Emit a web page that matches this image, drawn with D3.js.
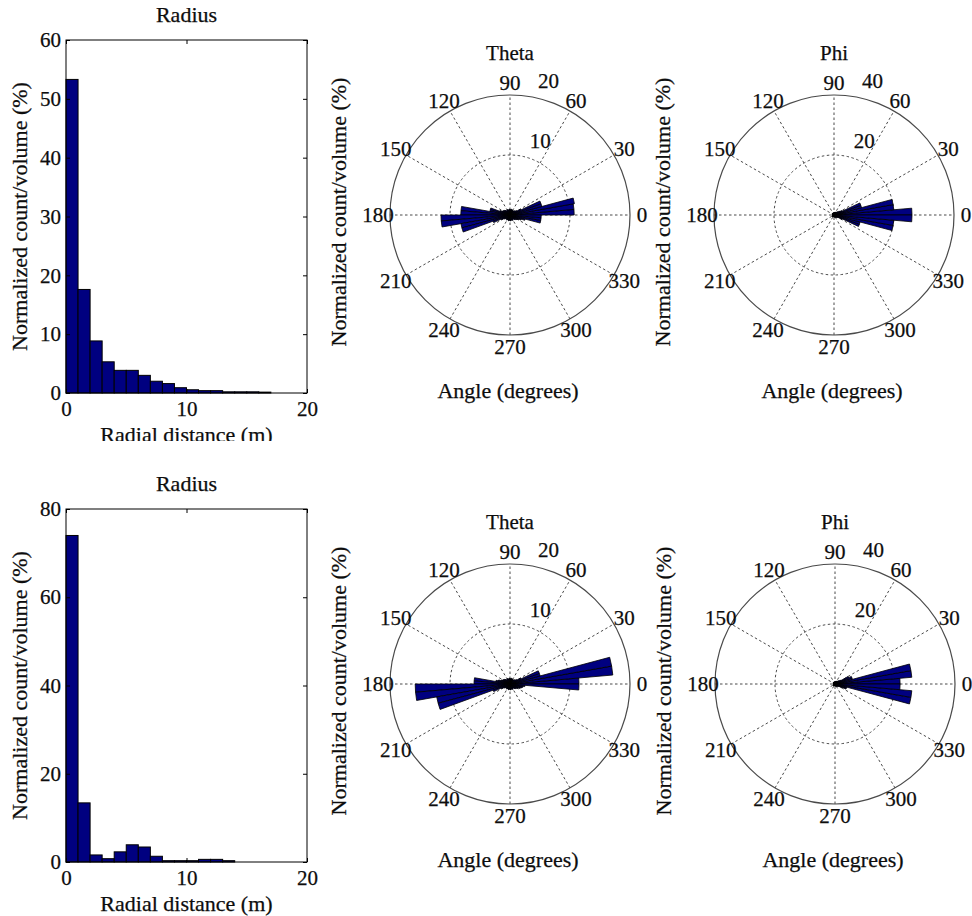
<!DOCTYPE html>
<meta charset="utf-8">
<script src="https://d3js.org/d3.v7.min.js"></script>
<style>
body { margin: 0; background: #fff; }
svg text { font-family: "Liberation Serif", "Times New Roman", serif; fill: #0d0d0d; stroke: #0d0d0d; stroke-width: 0.25px; }
</style>
<svg id="fig" width="972" height="916"></svg>
<script>
// ---- data ----
// radial distance histogram: 1 m bins starting at these edges
const radiusEdges = [0, 1, 2, 3, 4, 5, 6, 7, 8, 9, 10, 11, 12, 13, 14, 15, 16, 17, 18, 19];
const radiusTop = [53.3, 17.6, 8.85, 5.3, 3.85, 3.85, 3.0, 2.0, 1.6, 0.9, 0.55, 0.4, 0.4, 0.2, 0.2, 0.2, 0.15, 0, 0, 0];
const radiusBottom = [74.0, 13.4, 1.6, 0.75, 2.3, 3.9, 3.4, 1.3, 0.3, 0.3, 0.3, 0.6, 0.6, 0.3, 0, 0, 0, 0, 0, 0];
const radiusTicksTop = [0, 10, 20, 30, 40, 50, 60];
const radiusTicksBottom = [0, 20, 40, 60, 80];
const radialTicks = [0, 10, 20];

// angular histograms: 5 degree bins starting at these angles
const angleBins = [0, 5, 10, 15, 20, 25, 30, 35, 40, 45, 50, 55, 60, 65, 70, 75, 80, 85,
  90, 95, 100, 105, 110, 115, 120, 125, 130, 135, 140, 145, 150, 155, 160, 165, 170, 175,
  180, 185, 190, 195, 200, 205, 210, 215, 220, 225, 230, 235, 240, 245, 250, 255, 260, 265,
  270, 275, 280, 285, 290, 295, 300, 305, 310, 315, 320, 325, 330, 335, 340, 345, 350, 355];
const thetaTop = [10.7, 10.7, 10.9, 5.5, 5.5, 2.0, 1.3, 1.1, 1.0, 0.9, 0.8, 0.9, 0.8, 0.9, 1.0, 0.9, 0.8, 0.9,
  1.0, 0.9, 0.8, 0.9, 1.0, 0.9, 0.8, 0.9, 1.0, 1.1, 1.2, 1.3, 1.4, 1.8, 3.4, 3.4, 8.2, 8.2,
  11.5, 11.5, 8.3, 8.3, 3.0, 1.6, 1.2, 1.0, 0.9, 0.8, 0.9, 1.0, 0.9, 0.8, 0.9, 1.0, 0.9, 0.8,
  0.9, 1.0, 0.9, 0.8, 0.9, 1.0, 0.9, 0.8, 1.0, 1.1, 1.2, 1.4, 1.6, 2.0, 2.6, 5.2, 5.2, 5.2];
const phiTop = [26, 20, 20, 9.5, 9.5, 3.0, 2.2, 1.8, 1.5, 1.3, 1.2, 1.1, 1.0, 1.0, 0.9, 0.9, 0.8, 0.8,
  0.8, 0.7, 0.7, 0.7, 0.7, 0.6, 0.6, 0.6, 0.6, 0.6, 0.6, 0.6, 0.6, 0.6, 0.6, 0.6, 0.6, 0.6,
  0.6, 0.6, 0.6, 0.6, 0.6, 0.6, 0.6, 0.6, 0.6, 0.6, 0.6, 0.6, 0.6, 0.6, 0.6, 0.6, 0.6, 0.7,
  0.7, 0.7, 0.7, 0.8, 0.8, 0.8, 0.9, 0.9, 1.0, 1.1, 1.2, 1.4, 3.0, 9.0, 9.0, 20, 20, 26];
const thetaBottom = [11.5, 17.2, 17.2, 5.2, 5.2, 2.0, 1.3, 1.1, 1.0, 0.9, 0.8, 0.9, 0.8, 0.9, 1.0, 0.9, 0.8, 0.9,
  1.0, 0.9, 0.8, 0.9, 1.0, 0.9, 0.8, 0.9, 1.0, 1.1, 1.2, 1.3, 1.4, 1.6, 2.0, 2.4, 6.0, 6.0,
  15.8, 15.8, 12.4, 12.4, 3.0, 1.6, 1.2, 1.0, 0.9, 0.8, 0.9, 1.0, 0.9, 0.8, 0.9, 1.0, 0.9, 0.8,
  0.9, 1.0, 0.9, 0.8, 0.9, 1.0, 0.9, 0.8, 1.0, 1.1, 1.2, 1.3, 1.5, 1.8, 2.0, 2.2, 2.5, 11.5];
const phiBottom = [21.7, 25.7, 25.7, 6.0, 6.0, 5.0, 2.2, 1.8, 1.5, 1.3, 1.2, 1.1, 1.0, 1.0, 0.9, 0.9, 0.8, 0.8,
  0.8, 0.7, 0.7, 0.7, 0.7, 0.6, 0.6, 0.6, 0.6, 0.6, 0.6, 0.6, 0.6, 0.6, 0.6, 0.6, 0.6, 0.6,
  0.6, 0.6, 0.6, 0.6, 0.6, 0.6, 0.6, 0.6, 0.6, 0.6, 0.6, 0.6, 0.6, 0.6, 0.6, 0.6, 0.6, 0.7,
  0.7, 0.7, 0.7, 0.8, 0.8, 0.8, 0.9, 0.9, 1.0, 1.1, 1.2, 1.4, 2.5, 4.0, 4.0, 25.7, 25.7, 21.7];
const spokeAngles = [0, 30, 60, 90, 120, 150];
const angleLabels = [0, 30, 60, 90, 120, 150, 180, 210, 240, 270, 300, 330];

const svg = d3.select("#fig");
const blue = "#000080";
const gridColor = "#4a4a4a";

// ---- histogram panel ----
const histX = d3.scaleLinear().domain([0, 20]).range([66, 307]);
const plotH = 353;

function drawHist(top, yMax, yTicks, values, clipBottom) {
  const clipId = "clip" + top;
  svg.append("clipPath").attr("id", clipId)
    .append("rect").attr("x", 0).attr("y", 0).attr("width", 330).attr("height", clipBottom);

  const g = svg.append("g").attr("clip-path", `url(#${clipId})`)
    .append("g").attr("transform", `translate(0,${top})`);
  const y = d3.scaleLinear().domain([0, yMax]).range([plotH, 0]);

  g.selectAll("rect.bar")
    .data(values.map((v, i) => ({ x0: radiusEdges[i], v: v })).filter(d => d.v > 0))
    .enter().append("rect")
    .attr("class", "bar")
    .attr("x", d => histX(d.x0))
    .attr("width", d => histX(d.x0 + 1) - histX(d.x0))
    .attr("y", d => y(d.v))
    .attr("height", d => plotH - y(d.v))
    .attr("fill", blue)
    .attr("stroke", "#000")
    .attr("stroke-width", 1);

  const fontTick = "21px";
  g.append("g").attr("transform", "translate(66,0)")
    .call(d3.axisLeft(y).tickValues(yTicks).tickSizeInner(-4).tickSizeOuter(0).tickPadding(5));
  g.append("g").attr("transform", "translate(307,0)")
    .call(d3.axisRight(y).tickValues(yTicks).tickSizeInner(-4).tickSizeOuter(0).tickFormat(""));
  g.append("g").attr("transform", `translate(0,${plotH})`)
    .call(d3.axisBottom(histX).tickValues(radialTicks).tickSizeInner(-4).tickSizeOuter(0).tickPadding(8));
  g.append("g")
    .call(d3.axisTop(histX).tickValues(radialTicks).tickSizeInner(-4).tickSizeOuter(0).tickFormat(""));
  g.selectAll(".domain").remove();
  g.selectAll(".tick line").attr("stroke", "#000");
  g.selectAll(".tick text").style("font-size", fontTick).attr("fill", "#0d0d0d");

  g.append("rect")
    .attr("x", 66).attr("y", 0).attr("width", 241).attr("height", plotH)
    .attr("fill", "none").attr("stroke", "#000").attr("stroke-width", 1);

  g.append("text").attr("x", 186.5).attr("y", -18)
    .attr("text-anchor", "middle").style("font-size", "22px").text("Radius");
  g.append("text").attr("transform", `translate(27,${plotH / 2}) rotate(-90)`)
    .attr("text-anchor", "middle").style("font-size", "22px").text("Normalized count/volume (%)");
  g.append("text").attr("x", 186.5).attr("y", plotH + 49)
    .attr("text-anchor", "middle").style("font-size", "22px").text("Radial distance (m)");
}

// ---- rose panel ----
const R = 120;

function drawRose(cx, cy, title, rMax, rInc, values) {
  const g = svg.append("g").attr("transform", `translate(${cx},${cy})`);
  const r = d3.scaleLinear().domain([0, rMax]).range([0, R]);
  const rad = a => a * Math.PI / 180;

  // spokes
  g.selectAll("line.spoke").data(spokeAngles).enter().append("line")
    .attr("x1", d => -R * Math.cos(rad(d))).attr("y1", d => R * Math.sin(rad(d)))
    .attr("x2", d => R * Math.cos(rad(d))).attr("y2", d => -R * Math.sin(rad(d)))
    .attr("stroke", gridColor).attr("stroke-width", 1).attr("stroke-dasharray", "2.5,2.5");

  // circles
  g.append("circle").attr("r", r(rInc)).attr("fill", "none")
    .attr("stroke", gridColor).attr("stroke-width", 1).attr("stroke-dasharray", "2.5,2.5");
  g.append("circle").attr("r", r(rMax)).attr("fill", "none")
    .attr("stroke", gridColor).attr("stroke-width", 1.2);

  // wedges
  const wedge = d3.lineRadial()
    .angle(d => Math.PI / 2 - rad(d.a))
    .radius(d => r(d.v))
    .curve(d3.curveLinearClosed);
  g.selectAll("path.wedge")
    .data(values.map((v, i) => [
      { a: 0, v: 0 },
      { a: angleBins[i], v: v },
      { a: angleBins[i] + 5, v: v }
    ]))
    .enter().append("path")
    .attr("class", "wedge")
    .attr("d", wedge)
    .attr("fill", blue)
    .attr("stroke", "#000")
    .attr("stroke-width", 0.8)
    .attr("stroke-linejoin", "round");

  // angle labels
  g.selectAll("text.ang").data(angleLabels).enter().append("text")
    .attr("x", d => 1.1 * R * Math.cos(rad(d)))
    .attr("y", d => -1.1 * R * Math.sin(rad(d)))
    .attr("dy", "0.35em")
    .attr("text-anchor", "middle")
    .style("font-size", "21px")
    .text(d => d);

  // radial labels at 82 degrees
  g.selectAll("text.rlab").data([rInc, rMax]).enter().append("text")
    .attr("x", d => r(d + rInc / 20) * Math.cos(rad(82)) + 11)
    .attr("y", d => -r(d + rInc / 20) * Math.sin(rad(82)) - 5)
    .style("font-size", "21px")
    .text(d => d);

  g.append("text").attr("x", 0).attr("y", -155)
    .attr("text-anchor", "middle").style("font-size", "21px").text(title);
  g.append("text").attr("x", -2).attr("y", 183)
    .attr("text-anchor", "middle").style("font-size", "22px").text("Angle (degrees)");
  g.append("text").attr("transform", `translate(${-164},-3) rotate(-90)`)
    .attr("text-anchor", "middle").style("font-size", "22px").text("Normalized count/volume (%)");
}

drawHist(40, 60, radiusTicksTop, radiusTop, 441);
drawHist(509, 80, radiusTicksBottom, radiusBottom, 916);

drawRose(510, 215, "Theta", 20, 10, thetaTop);
drawRose(834, 215, "Phi", 40, 20, phiTop);
drawRose(510, 684, "Theta", 20, 10, thetaBottom);
drawRose(835, 684, "Phi", 40, 20, phiBottom);
</script>
